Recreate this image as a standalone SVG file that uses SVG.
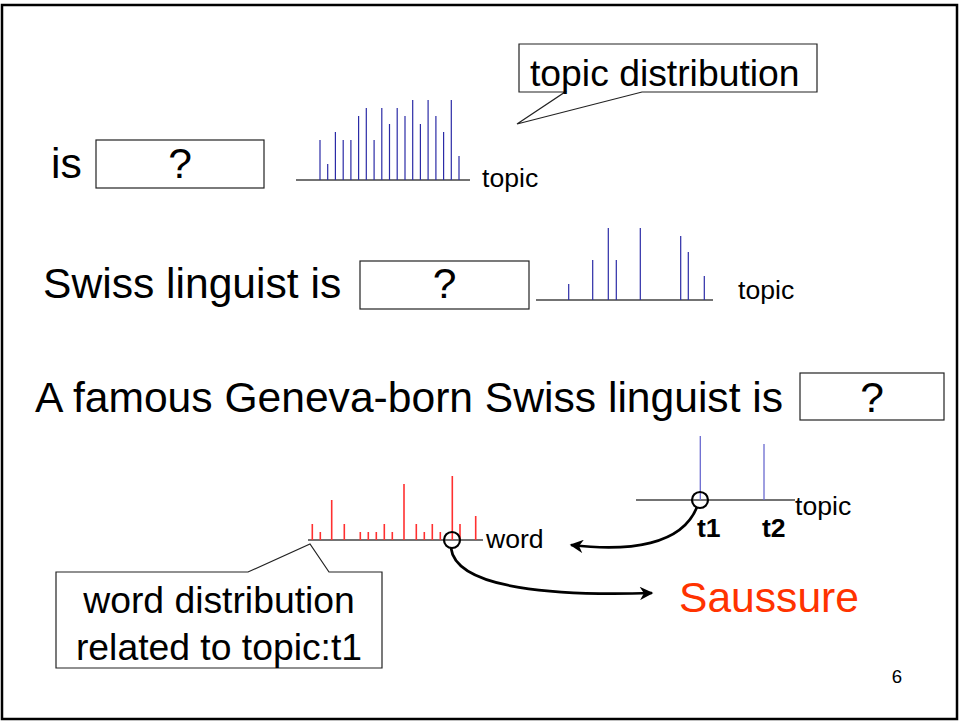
<svg xmlns="http://www.w3.org/2000/svg" width="959" height="722" viewBox="0 0 959 722">
<defs>
<style>
text{font-family:"Liberation Sans",Arial,sans-serif;fill:#000}
.big{font-size:42.6px}
.mid{font-size:37.3px}
.sm{font-size:26.6px}
.box{fill:#fff;stroke:#222;stroke-width:1.2}
.axis{stroke:#444;stroke-width:1.3;fill:none}
.blue{stroke:#2b2ba6;stroke-width:1.2}
.lblue{stroke:#6a6ad0;stroke-width:1.3}
.red{stroke:#ff3030;stroke-width:1.6}
.conn{fill:none;stroke:#000;stroke-width:2.7}
.circ{fill:none;stroke:#000;stroke-width:2.2}
.call{fill:#fff;stroke:#222;stroke-width:1.2}
</style>
<marker id="ah" viewBox="0 0 10 10" refX="9" refY="5" markerWidth="5.5" markerHeight="5" markerUnits="strokeWidth" orient="auto">
<path d="M0,0 L10,5 L0,10 L3,5 z" fill="#000"/>
</marker>
</defs>
<rect x="2" y="5" width="955" height="714" fill="#fff" stroke="#000" stroke-width="2.5"/>

<g id="line1">
<text class="big" x="51" y="178">is</text>
<rect class="box" x="96" y="140" width="168" height="48"/>
<text class="big" x="180" y="178" text-anchor="middle">?</text>
</g>

<g id="chart1">
<line class="axis" x1="296" y1="180" x2="470" y2="180"/>
<g class="blue">
<line x1="320" y1="180" x2="320" y2="140"/>
<line x1="327.7" y1="180" x2="327.7" y2="164"/>
<line x1="335.4" y1="180" x2="335.4" y2="132"/>
<line x1="343.2" y1="180" x2="343.2" y2="140"/>
<line x1="350.9" y1="180" x2="350.9" y2="140"/>
<line x1="358.6" y1="180" x2="358.6" y2="116"/>
<line x1="366.3" y1="180" x2="366.3" y2="108"/>
<line x1="374.1" y1="180" x2="374.1" y2="140"/>
<line x1="381.8" y1="180" x2="381.8" y2="108"/>
<line x1="389.5" y1="180" x2="389.5" y2="124"/>
<line x1="397.2" y1="180" x2="397.2" y2="108"/>
<line x1="405" y1="180" x2="405" y2="116"/>
<line x1="412.7" y1="180" x2="412.7" y2="100"/>
<line x1="420.4" y1="180" x2="420.4" y2="124"/>
<line x1="428.1" y1="180" x2="428.1" y2="100"/>
<line x1="435.9" y1="180" x2="435.9" y2="116"/>
<line x1="443.6" y1="180" x2="443.6" y2="132"/>
<line x1="451.3" y1="180" x2="451.3" y2="100"/>
<line x1="459" y1="180" x2="459" y2="156"/>
</g>
<text class="sm" x="482" y="187">topic</text>
</g>

<g id="callout-topic">
<path class="call" d="M519,44 H817 V92 H642 L517,124 L565,92 H519 Z"/>
<text class="mid" x="530" y="86">topic distribution</text>
</g>

<g id="line2">
<text class="big" x="43" y="298">Swiss linguist is</text>
<rect class="box" x="360" y="261" width="169" height="48"/>
<text class="big" x="444.5" y="298" text-anchor="middle">?</text>
</g>

<g id="chart2">
<line class="axis" x1="536" y1="300" x2="713" y2="300"/>
<g class="blue">
<line x1="568.7" y1="300" x2="568.7" y2="284"/>
<line x1="592.7" y1="300" x2="592.7" y2="260"/>
<line x1="608.3" y1="300" x2="608.3" y2="228"/>
<line x1="616.3" y1="300" x2="616.3" y2="260"/>
<line x1="640.3" y1="300" x2="640.3" y2="228"/>
<line x1="680.7" y1="300" x2="680.7" y2="236"/>
<line x1="688.3" y1="300" x2="688.3" y2="252"/>
<line x1="704.3" y1="300" x2="704.3" y2="276"/>
</g>
<text class="sm" x="738" y="299">topic</text>
</g>

<g id="line3">
<text class="big" x="35" y="412">A famous Geneva-born Swiss linguist is</text>
<rect class="box" x="800" y="373" width="144" height="47"/>
<text class="big" x="872" y="412" text-anchor="middle">?</text>
</g>

<g id="chart-t">
<line class="axis" x1="636" y1="500" x2="795" y2="500"/>
<line class="lblue" x1="700.3" y1="500" x2="700.3" y2="436"/>
<line class="lblue" x1="764" y1="500" x2="764" y2="444"/>
<circle class="circ" cx="700" cy="500" r="8"/>
<text class="sm" x="795" y="515">topic</text>
<text class="sm" x="697" y="537" font-weight="bold">t1</text>
<text class="sm" x="762" y="537" font-weight="bold">t2</text>
</g>

<g id="chart-word">
<line class="axis" x1="308" y1="540" x2="483" y2="540"/>
<g class="red">
<line x1="312.3" y1="540" x2="312.3" y2="524"/>
<line x1="320.3" y1="540" x2="320.3" y2="532"/>
<line x1="331.7" y1="540" x2="331.7" y2="500"/>
<line x1="344.3" y1="540" x2="344.3" y2="524"/>
<line x1="360.3" y1="540" x2="360.3" y2="532"/>
<line x1="368.3" y1="540" x2="368.3" y2="532"/>
<line x1="376.3" y1="540" x2="376.3" y2="532"/>
<line x1="384.3" y1="540" x2="384.3" y2="524"/>
<line x1="392.3" y1="540" x2="392.3" y2="532"/>
<line x1="404" y1="540" x2="404" y2="484"/>
<line x1="416.3" y1="540" x2="416.3" y2="524"/>
<line x1="424.3" y1="540" x2="424.3" y2="532"/>
<line x1="432.3" y1="540" x2="432.3" y2="524"/>
<line x1="440.3" y1="540" x2="440.3" y2="532"/>
<line x1="452.3" y1="540" x2="452.3" y2="476"/>
<line x1="460" y1="540" x2="460" y2="524"/>
<line x1="475.7" y1="540" x2="475.7" y2="516"/>
</g>
<circle class="circ" cx="452" cy="540" r="8"/>
<text class="sm" x="486" y="548">word</text>
</g>

<g id="callout-word">
<path class="call" d="M56,572 H248 L310,544 L329,572 H382 V668 H56 Z"/>
<text class="mid" x="219" y="613" text-anchor="middle">word distribution</text>
<text class="mid" x="219" y="660" text-anchor="middle">related to topic:t1</text>
</g>

<g id="saussure">
<text class="big" x="679" y="612" style="fill:#ff3300">Saussure</text>
</g>

<g id="connectors">
<path class="conn" d="M697,507 C682,545 630,552 571,545" marker-end="url(#ah)"/>
<path class="conn" d="M451,548 C456,590 560,596 652,593" marker-end="url(#ah)"/>
</g>

<text x="897" y="683" font-size="18.6" text-anchor="middle">6</text>
</svg>
